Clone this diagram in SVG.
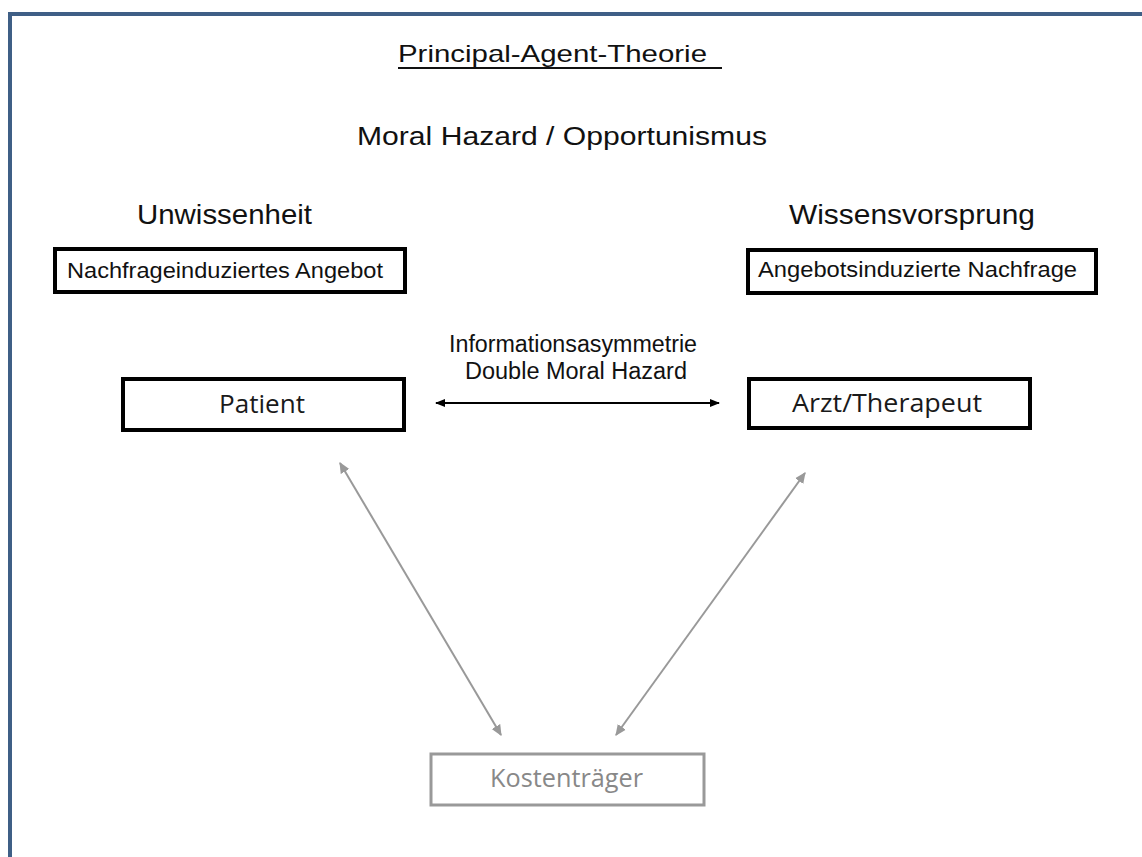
<svg xmlns="http://www.w3.org/2000/svg" width="1142" height="857" viewBox="0 0 1142 857">
<style>
.a{font-family:"Liberation Sans",Arial,sans-serif;fill:#111}
.c{font-family:"Open Sans","Noto Sans",sans-serif;fill:#1a1a1a}
.box{fill:#fff;stroke:#000;stroke-width:4}
.gbox{fill:#fff;stroke:#999;stroke-width:3}
</style>
<defs>
<marker id="hb" viewBox="0 0 10 10" refX="9" refY="5" markerWidth="5" markerHeight="5" orient="auto-start-reverse" markerUnits="strokeWidth">
<path d="M0,1 L10,5 L0,9 Z" fill="#000"/>
</marker>
<marker id="hg" viewBox="0 0 10 10" refX="9" refY="5" markerWidth="5.5" markerHeight="5.5" orient="auto-start-reverse" markerUnits="strokeWidth">
<path d="M0,0.5 L10,5 L0,9.5 Z" fill="#999"/>
</marker>
</defs>
<rect width="1142" height="857" fill="#fff"/>
<rect x="10" y="14" width="1160" height="870" fill="none" stroke="#3f5f86" stroke-width="4"/>
<g id="title">
<text class="a" x="398" y="62" font-size="24" textLength="309" lengthAdjust="spacingAndGlyphs">Principal-Agent-Theorie</text>
<line x1="398" y1="68" x2="722" y2="68" stroke="#111" stroke-width="2"/>
</g>
<g id="subtitle">
<text class="a" x="357" y="145" font-size="25" textLength="410" lengthAdjust="spacingAndGlyphs">Moral Hazard / Opportunismus</text>
</g>
<g id="unwissenheit">
<text class="a" x="137" y="224" font-size="28" textLength="175" lengthAdjust="spacingAndGlyphs">Unwissenheit</text>
</g>
<g id="wissensvorsprung">
<text class="a" x="789" y="224" font-size="28" textLength="246" lengthAdjust="spacingAndGlyphs">Wissensvorsprung</text>
</g>
<g id="nachfrageinduziert">
<rect class="box" x="55" y="249" width="350" height="43"/>
<text class="a" x="67" y="278" font-size="22" textLength="316" lengthAdjust="spacingAndGlyphs">Nachfrageinduziertes Angebot</text>
</g>
<g id="angebotsinduziert">
<rect class="box" x="748" y="250" width="348" height="43"/>
<text class="a" x="758" y="277" font-size="22" textLength="319" lengthAdjust="spacingAndGlyphs">Angebotsinduzierte Nachfrage</text>
</g>
<g id="info">
<text class="a" x="449" y="352" font-size="23" textLength="248" lengthAdjust="spacingAndGlyphs">Informationsasymmetrie</text>
<text class="a" x="465" y="379" font-size="23" textLength="222" lengthAdjust="spacingAndGlyphs">Double Moral Hazard</text>
</g>
<g id="patient">
<rect class="box" x="123" y="379" width="281" height="51"/>
<text class="c" x="219" y="413" font-size="26" textLength="86" lengthAdjust="spacingAndGlyphs">Patient</text>
</g>
<g id="arzt">
<rect class="box" x="749" y="379" width="281" height="49"/>
<text class="c" x="792" y="412" font-size="26" textLength="190" lengthAdjust="spacingAndGlyphs">Arzt/Therapeut</text>
</g>
<g id="kostentraeger">
<rect class="gbox" x="431" y="754" width="273" height="51"/>
<text class="c" x="490" y="787" font-size="26" textLength="153" lengthAdjust="spacingAndGlyphs" style="fill:#888">Kostenträger</text>
</g>
<g id="connectors">
<line x1="436" y1="403" x2="719" y2="403" stroke="#000" stroke-width="2" marker-start="url(#hb)" marker-end="url(#hb)"/>
<line x1="340" y1="463" x2="501" y2="735" stroke="#999" stroke-width="2" marker-start="url(#hg)" marker-end="url(#hg)"/>
<line x1="805" y1="473" x2="616" y2="735" stroke="#999" stroke-width="2" marker-start="url(#hg)" marker-end="url(#hg)"/>
</g>
</svg>
